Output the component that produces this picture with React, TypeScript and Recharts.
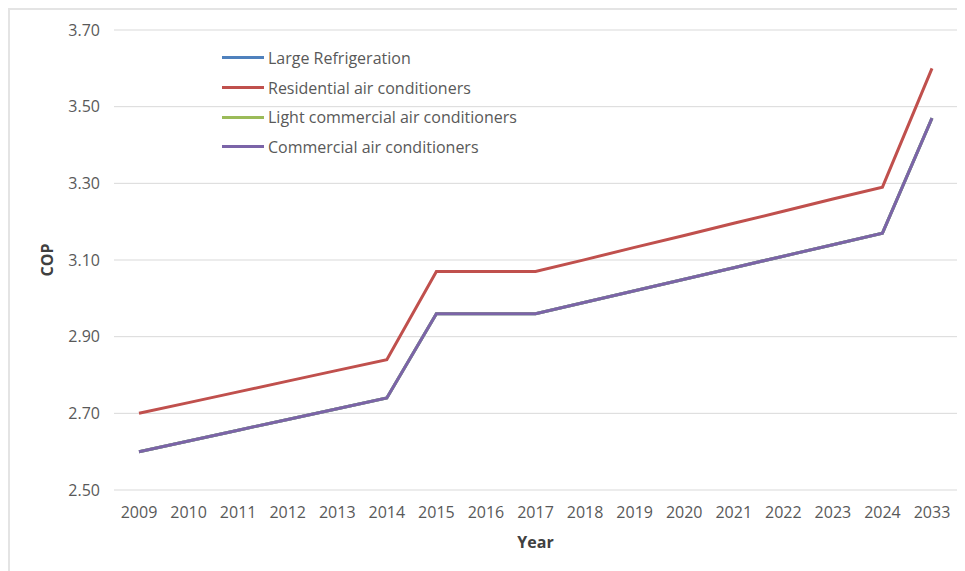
import React from 'react';
import { LineChart, Line, XAxis, YAxis, CartesianGrid, Legend } from 'recharts';

const years = ['2009','2010','2011','2012','2013','2014','2015','2016','2017','2018','2019','2020','2021','2022','2023','2024','2033'];
const largeRefrigeration = [2.60,2.628,2.656,2.684,2.712,2.74,2.96,2.96,2.96,2.99,3.02,3.05,3.08,3.11,3.14,3.17,3.47];
const residentialAC = [2.70,2.728,2.756,2.784,2.812,2.84,3.07,3.07,3.07,3.101,3.133,3.164,3.196,3.227,3.259,3.29,3.60];
const lightCommercialAC = [2.60,2.628,2.656,2.684,2.712,2.74,2.96,2.96,2.96,2.99,3.02,3.05,3.08,3.11,3.14,3.17,3.47];
const commercialAC = [2.60,2.628,2.656,2.684,2.712,2.74,2.96,2.96,2.96,2.99,3.02,3.05,3.08,3.11,3.14,3.17,3.47];
const yTicks = [2.5, 2.7, 2.9, 3.1, 3.3, 3.5, 3.7];

const seriesNames = {
  large: 'Large Refrigeration',
  residential: 'Residential air conditioners',
  light: 'Light commercial air conditioners',
  commercial: 'Commercial air conditioners',
};
const legendOrder = ['large', 'residential', 'light', 'commercial'];

const data = years.map((y, i) => ({
  year: y,
  large: largeRefrigeration[i],
  residential: residentialAC[i],
  light: lightCommercialAC[i],
  commercial: commercialAC[i],
}));

const FONT = '"Open Sans", sans-serif';

const LegendContent = (props: any) => {
  const payload = [...(props.payload || [])].sort(
    (a: any, b: any) => legendOrder.indexOf(a.dataKey) - legendOrder.indexOf(b.dataKey)
  );
  return (
    <div style={{ fontFamily: FONT, fontSize: 16, color: '#595959' }}>
      {payload.map((p: any) => (
        <div key={p.value} style={{ display: 'flex', alignItems: 'center', height: 29.7 }}>
          <div style={{ width: 42, height: 3, background: p.color, marginRight: 4 }} />
          <span style={{ whiteSpace: 'nowrap' }}>{p.value}</span>
        </div>
      ))}
    </div>
  );
};

export default function App() {
  return (
    <div style={{ width: 955, height: 561, borderTop: '2px solid #e4e4e4', borderLeft: '2px solid #e4e4e4', background: '#fff' }}>
      <LineChart width={955} height={561} data={data} margin={{ top: 20, right: 8, bottom: 26, left: 44 }}>
        <CartesianGrid vertical={false} stroke="#d9d9d9" strokeWidth={1} />
        <XAxis
          dataKey="year"
          axisLine={false}
          tickLine={false}
          tickSize={0}
          tickMargin={17}
          height={55}
          interval={0}
          padding={{ left: 25, right: 25 }}
          tick={{ fill: '#595959', fontSize: 16, fontFamily: FONT }}
          label={{ value: 'Year', position: 'center', dy: 25, fill: '#404040', fontSize: 16, fontWeight: 'bold', fontFamily: FONT }}
        />
        <YAxis
          domain={[2.5, 3.7]}
          ticks={yTicks}
          axisLine={false}
          tickLine={false}
          tickSize={0}
          tickMargin={14}
          width={60}
          tickFormatter={(v: number) => v.toFixed(2)}
          tick={{ fill: '#595959', fontSize: 16, fontFamily: FONT }}
          label={{ value: 'COP', angle: -90, position: 'center', dx: -37, fill: '#404040', fontSize: 16, fontWeight: 'bold', fontFamily: FONT }}
        />
        <Legend
          layout="vertical"
          align="center"
          verticalAlign="middle"
          content={<LegendContent />}
          wrapperStyle={{ left: 212, top: 33, width: 'auto', height: 'auto' }}
        />
        <Line type="linear" dataKey="large" name={seriesNames.large} stroke="#4F81BD" strokeWidth={3} dot={false} isAnimationActive={false} />
        <Line type="linear" dataKey="residential" name={seriesNames.residential} stroke="#C0504D" strokeWidth={3} dot={false} isAnimationActive={false} />
        <Line type="linear" dataKey="light" name={seriesNames.light} stroke="#9BBB59" strokeWidth={3} dot={false} isAnimationActive={false} />
        <Line type="linear" dataKey="commercial" name={seriesNames.commercial} stroke="#7B64A8" strokeWidth={3} dot={false} isAnimationActive={false} />
      </LineChart>
    </div>
  );
}
